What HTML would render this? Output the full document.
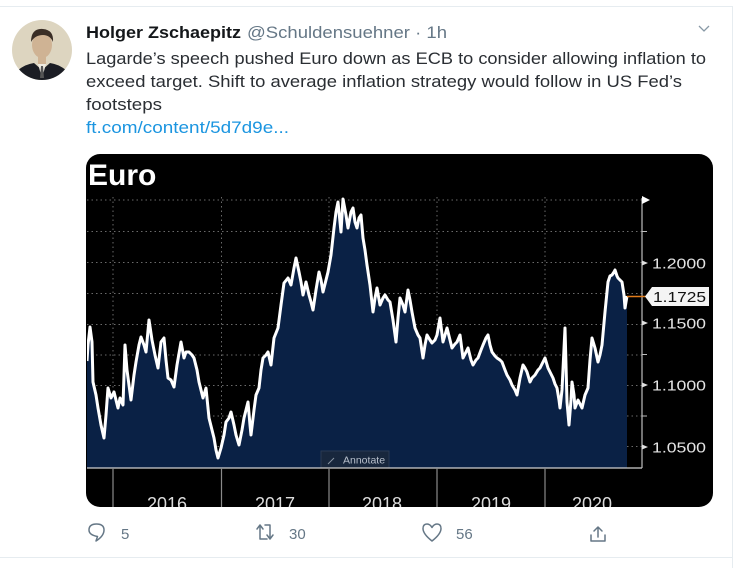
<!DOCTYPE html>
<html><head><meta charset="utf-8"><style>
html,body{margin:0;padding:0;background:#fff;}
svg{display:block;}
text{font-family:"Liberation Sans",sans-serif;}
</style></head><body>
<svg width="746" height="568" viewBox="0 0 746 568" xmlns="http://www.w3.org/2000/svg">
<defs>
<clipPath id="card"><rect x="86" y="154" width="627" height="353" rx="14" ry="14"/></clipPath>
<clipPath id="plot"><rect x="87" y="196" width="555" height="272"/></clipPath>
<clipPath id="av"><circle cx="42" cy="50" r="30"/></clipPath>
</defs>
<rect width="746" height="568" fill="#fff"/>
<line x1="0" y1="6.5" x2="732" y2="6.5" stroke="#e6ecf0" stroke-width="1"/>
<line x1="732.5" y1="6" x2="732.5" y2="568" stroke="#e6ecf0" stroke-width="1"/>
<line x1="0" y1="557.5" x2="732" y2="557.5" stroke="#e6ecf0" stroke-width="1"/>

<!-- avatar -->
<g clip-path="url(#av)">
<rect x="12" y="20" width="60" height="60" fill="#ddd5c0"/>
<path d="M14 80 L18 70 Q26 64 34 63 L42 70 L50 63 Q58 64 66 70 L70 80 Z" fill="#1b1d24"/>
<path d="M38 64 L42 78 L46 64 Z" fill="#eeeae0"/>
<path d="M41 66 L43 66 L44 78 L40 78 Z" fill="#555"/>
<ellipse cx="42" cy="45" rx="10" ry="13" fill="#cfb394"/>
<path d="M31 42 Q31 28 43 29 Q54 30 53 42 Q50 35 43 35 Q35 35 31 42 Z" fill="#3a2e26"/>
<rect x="38" y="55" width="8" height="9" fill="#cfb394"/>
</g>

<!-- header -->
<text x="86" y="38" font-size="17" font-weight="bold" fill="#14171a" textLength="155" lengthAdjust="spacingAndGlyphs">Holger Zschaepitz</text>
<text x="247" y="38" font-size="17" fill="#657786" textLength="200" lengthAdjust="spacingAndGlyphs">@Schuldensuehner · 1h</text>
<polyline points="699,26 704,31 709,26" fill="none" stroke="#8899a6" stroke-width="1.3"/>

<text x="86" y="64" font-size="17" fill="#2a2e33" textLength="620" lengthAdjust="spacingAndGlyphs">Lagarde’s speech pushed Euro down as ECB to consider allowing inflation to</text>
<text x="86" y="87" font-size="17" fill="#2a2e33" textLength="596" lengthAdjust="spacingAndGlyphs">exceed target. Shift to average inflation strategy would follow in US Fed’s</text>
<text x="86" y="110" font-size="17" fill="#2a2e33" textLength="76" lengthAdjust="spacingAndGlyphs">footsteps</text>
<text x="86" y="133" font-size="17" fill="#1b95e0" textLength="203" lengthAdjust="spacingAndGlyphs">ft.com/content/5d7d9e...</text>

<!-- chart card -->
<rect x="86" y="154" width="627" height="353" rx="14" ry="14" fill="#000"/>
<g clip-path="url(#card)">
<text x="88" y="185" font-size="30" font-weight="bold" fill="#fff">Euro</text>

<!-- grid -->
<g stroke="#6a6a6a" stroke-width="1" stroke-dasharray="1.5,3">
<line x1="87" y1="200" x2="642" y2="200"/>
<line x1="87" y1="231.5" x2="642" y2="231.5"/>
<line x1="87" y1="262.5" x2="642" y2="262.5"/>
<line x1="87" y1="293.5" x2="642" y2="293.5"/>
<line x1="87" y1="324.5" x2="642" y2="324.5"/>
<line x1="87" y1="355" x2="642" y2="355"/>
<line x1="87" y1="385.5" x2="642" y2="385.5"/>
<line x1="87" y1="416" x2="642" y2="416"/>
<line x1="87" y1="446.5" x2="642" y2="446.5"/>
<line x1="113" y1="197" x2="113" y2="468"/>
<line x1="221.5" y1="197" x2="221.5" y2="468"/>
<line x1="329" y1="197" x2="329" y2="468"/>
<line x1="437" y1="197" x2="437" y2="468"/>
<line x1="545" y1="197" x2="545" y2="468"/>
</g>

<g clip-path="url(#plot)">
<polygon fill="#0a2145" points="87,468 87,361 88,345 90,327 92,342 93,382 96,395 98,408 101,425 104,438 106,415 108,388 111,398 114,392 116,400 118,408 120,398 123,405 125,345 127,370 129,385 131,400 134,375 136,362 139,345 141,337 144,345 146,352 149,320 152,340 155,355 158,368 161,342 164,338 166,360 168,378 171,380 174,387 177,365 181,342 184,358 186,352 189,352 192,355 194,358 197,370 199,382 203,398 206,388 209,418 212,430 214,438 216,450 218,458 221,448 224,435 226,422 229,418 231,412 234,425 236,435 239,445 242,430 244,418 246,410 248,402 250,425 251,435 254,410 256,395 259,388 261,370 263,358 266,355 268,352 271,365 274,338 278,328 281,305 284,283 288,278 291,285 294,268 296,258 299,272 301,282 303,295 306,282 309,295 311,302 313,310 316,290 319,272 321,280 323,292 326,280 328,272 331,255 334,228 336,212 338,202 341,232 343,199 346,215 348,228 351,212 353,208 355,222 357,228 359,218 361,215 363,238 365,250 367,265 370,285 373,312 375,298 377,288 380,305 383,298 385,295 388,300 390,302 393,320 396,342 398,318 400,298 403,305 405,312 408,290 410,300 412,312 415,328 418,335 420,338 423,358 425,345 427,335 430,340 432,343 435,340 437,335 440,318 443,342 445,335 447,328 450,340 452,348 455,344 457,342 460,335 463,358 466,352 468,348 471,360 473,365 476,360 478,358 481,350 483,345 486,338 488,335 490,345 492,352 495,356 497,358 500,360 502,362 505,370 507,375 510,380 512,385 515,390 517,395 520,378 523,365 525,368 527,372 530,382 532,378 535,375 538,370 540,368 543,362 545,358 548,368 550,372 553,378 555,384 557,388 559,400 560,408 562,390 565,328 567,402 569,425 571,400 572,382 574,395 575,408 578,400 580,404 582,408 585,395 588,388 590,360 592,338 595,348 598,362 600,355 602,345 605,312 608,282 610,276 612,275 614,272 615,270 617,276 618,278 620,280 622,282 624,295 625,308 627,296 627,468"/>
<polyline fill="none" stroke="#fff" stroke-width="3" stroke-linejoin="round" points="87,361 88,345 90,327 92,342 93,382 96,395 98,408 101,425 104,438 106,415 108,388 111,398 114,392 116,400 118,408 120,398 123,405 125,345 127,370 129,385 131,400 134,375 136,362 139,345 141,337 144,345 146,352 149,320 152,340 155,355 158,368 161,342 164,338 166,360 168,378 171,380 174,387 177,365 181,342 184,358 186,352 189,352 192,355 194,358 197,370 199,382 203,398 206,388 209,418 212,430 214,438 216,450 218,458 221,448 224,435 226,422 229,418 231,412 234,425 236,435 239,445 242,430 244,418 246,410 248,402 250,425 251,435 254,410 256,395 259,388 261,370 263,358 266,355 268,352 271,365 274,338 278,328 281,305 284,283 288,278 291,285 294,268 296,258 299,272 301,282 303,295 306,282 309,295 311,302 313,310 316,290 319,272 321,280 323,292 326,280 328,272 331,255 334,228 336,212 338,202 341,232 343,199 346,215 348,228 351,212 353,208 355,222 357,228 359,218 361,215 363,238 365,250 367,265 370,285 373,312 375,298 377,288 380,305 383,298 385,295 388,300 390,302 393,320 396,342 398,318 400,298 403,305 405,312 408,290 410,300 412,312 415,328 418,335 420,338 423,358 425,345 427,335 430,340 432,343 435,340 437,335 440,318 443,342 445,335 447,328 450,340 452,348 455,344 457,342 460,335 463,358 466,352 468,348 471,360 473,365 476,360 478,358 481,350 483,345 486,338 488,335 490,345 492,352 495,356 497,358 500,360 502,362 505,370 507,375 510,380 512,385 515,390 517,395 520,378 523,365 525,368 527,372 530,382 532,378 535,375 538,370 540,368 543,362 545,358 548,368 550,372 553,378 555,384 557,388 559,400 560,408 562,390 565,328 567,402 569,425 571,400 572,382 574,395 575,408 578,400 580,404 582,408 585,395 588,388 590,360 592,338 595,348 598,362 600,355 602,345 605,312 608,282 610,276 612,275 614,272 615,270 617,276 618,278 620,280 622,282 624,295 625,308 627,296"/>
</g>

<!-- annotate -->
<rect x="321" y="451" width="68" height="17" fill="#18273d" stroke="#2a3a52" stroke-width="1"/>
<line x1="328" y1="464" x2="334" y2="458" stroke="#8a94a2" stroke-width="1"/>
<text x="343" y="463.5" font-size="10.5" fill="#b8c0cc">Annotate</text>

<!-- axes -->
<line x1="87" y1="468" x2="642" y2="468" stroke="#d0d0d0" stroke-width="1.2"/>
<line x1="642" y1="198" x2="642" y2="468" stroke="#bdbdbd" stroke-width="1.2"/>
<g stroke="#8a8a8a" stroke-width="1.2">
<line x1="113" y1="468" x2="113" y2="507"/>
<line x1="221.5" y1="468" x2="221.5" y2="507"/>
<line x1="329" y1="468" x2="329" y2="507"/>
<line x1="437" y1="468" x2="437" y2="507"/>
<line x1="545" y1="468" x2="545" y2="507"/>
</g>
<polygon points="642,196 650,200 642,204" fill="#fff"/>
<g fill="#e0e0e0">
<polygon points="642,260.5 648,263 642,265.5"/>
<polygon points="642,320.5 648,323 642,325.5"/>
<polygon points="642,382.5 648,385 642,387.5"/>
<polygon points="642,444.5 648,447 642,449.5"/>
</g>
<g stroke="#bdbdbd" stroke-width="1">
<line x1="642" y1="231.5" x2="647" y2="231.5"/>
<line x1="642" y1="354.5" x2="647" y2="354.5"/>
<line x1="642" y1="416" x2="647" y2="416"/>
</g>
<g font-size="15" fill="#e4e4e4">
<text x="652" y="268.5" textLength="54" lengthAdjust="spacingAndGlyphs">1.2000</text>
<text x="652" y="328.5" textLength="54" lengthAdjust="spacingAndGlyphs">1.1500</text>
<text x="652" y="390.5" textLength="54" lengthAdjust="spacingAndGlyphs">1.1000</text>
<text x="652" y="452.5" textLength="54" lengthAdjust="spacingAndGlyphs">1.0500</text>
</g>
<line x1="627" y1="296.5" x2="646" y2="296.5" stroke="#e07b1a" stroke-width="1.6"/>
<polygon points="645,296.5 652,287 709,287 709,306 652,306" fill="#f4f4f4"/>
<text x="653" y="302" font-size="15" fill="#111" textLength="53" lengthAdjust="spacingAndGlyphs">1.1725</text>

<g font-size="18" fill="#dcdcdc" text-anchor="middle">
<text x="167" y="510">2016</text>
<text x="275" y="510">2017</text>
<text x="382" y="510">2018</text>
<text x="491" y="510">2019</text>
<text x="592" y="510">2020</text>
</g>
</g>

<!-- actions -->
<g fill="none" stroke="#657786" stroke-width="1.5" stroke-linejoin="round" stroke-linecap="round">
<path d="M96 541 L97.5 536.5 Q89 535 89 530 Q89 524 96.5 524 Q104 524 104 530 Q104 536 96 541 Z"/>
<path d="M257 529 L260 525 L263 529 M260 525 L260 539 L267 539"/>
<path d="M265 525 L270 525 L270 539 M267 535 L270 539 L273 535"/>
<path d="M432 541 Q423 534 423 528.5 Q423 524 427 524 Q430 524 432 527.5 Q434 524 437 524 Q441 524 441 528.5 Q441 534 432 541 Z"/>
<path d="M598 527 L598 537 M594 531 L598 527 L602 531 M591 535 L591 541 L605 541 L605 535"/>
</g>
<g font-size="15" fill="#657786">
<text x="121" y="539">5</text>
<text x="289" y="539">30</text>
<text x="456" y="539">56</text>
</g>
</svg>
</body></html>
